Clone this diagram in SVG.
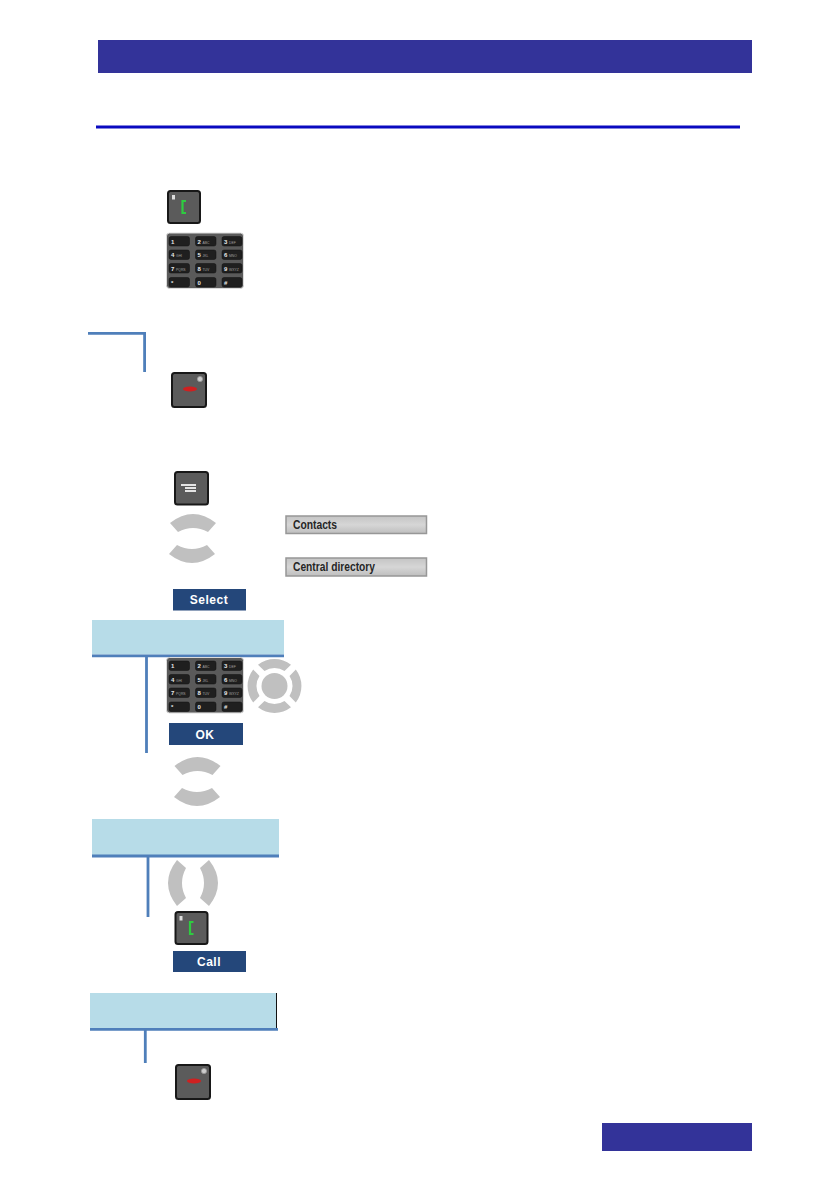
<svg xmlns="http://www.w3.org/2000/svg" width="840" height="1191" viewBox="0 0 840 1191">
<style>
.hdr{fill:#333399}
.band{fill:#b7dce8}
.conn{stroke:#4f7fba;stroke-width:2.8;fill:none}
.soft{fill:#24477a}
.softt{font:bold 12px "Liberation Sans",Arial,sans-serif;fill:#fff;text-anchor:middle;letter-spacing:.5px}
.seg{fill:#c0c0c0}
.body{fill:#5b5b5b;stroke:#181818;stroke-width:2}
.bar{fill:url(#barG);stroke:#979797;stroke-width:1.5}
.bart{font:bold 12px "Liberation Sans",Arial,sans-serif;fill:#262626}
.kp{fill:#5a5a5a;stroke:#dcdcdc;stroke-width:1}
.k{fill:#1f1f1f;stroke:#111;stroke-width:.5}
.kt{font:bold 6px "Liberation Sans",Arial,sans-serif;fill:#e8e8e8}
.kt tspan{font-size:3.4px;font-weight:normal;fill:#a0a0a0}
</style>
<defs>
<linearGradient id="barG" x1="0" x2="0" y1="0" y2="1"><stop offset="0" stop-color="#c4c4c4"/><stop offset=".5" stop-color="#d6d6d6"/><stop offset="1" stop-color="#bebebe"/></linearGradient>
<path id="arcU" class="seg" d="M-23,9Q0,-9 23,9L15,18Q0,10 -15,18Z"/>
<path id="navS" class="seg" d="M-16.500,-21.300A27,27 0 0 1 16.500,-21.300L10,-15A18,18 0 0 0 -10,-15Z"/>
<g id="greenKey">
<rect class="body" x="1" y="1" width="32" height="32" rx="2.500"/>
<rect x="5" y="5" width="3" height="4.500" fill="#ddd"/>
<path d="M19,11H15.500V23H19" fill="none" stroke="#2ecc40" stroke-width="2.200"/>
</g>
<g id="redKey">
<rect class="body" x="1" y="1" width="34" height="34" rx="2.500"/>
<circle cx="29" cy="7" r="2.600" fill="#ccc" stroke="#999" stroke-width=".8"/>
<ellipse cx="19" cy="17" rx="7" ry="2.600" fill="#cf2020"/>
</g>
<g id="keypad">
<rect class="kp" x=".5" y=".5" width="77" height="55.500" rx="3"/>
<rect class="k" x="3" y="4" width="20.500" height="9.500" rx="2"/><rect class="k" x="29.500" y="4" width="20.500" height="9.500" rx="2"/><rect class="k" x="56" y="4" width="20" height="9.500" rx="2"/>
<rect class="k" x="3" y="17.500" width="20.500" height="9.500" rx="2"/><rect class="k" x="29.500" y="17.500" width="20.500" height="9.500" rx="2"/><rect class="k" x="56" y="17.500" width="20" height="9.500" rx="2"/>
<rect class="k" x="3" y="31" width="20.500" height="9.500" rx="2"/><rect class="k" x="29.500" y="31" width="20.500" height="9.500" rx="2"/><rect class="k" x="56" y="31" width="20" height="9.500" rx="2"/>
<rect class="k" x="3" y="45" width="20.500" height="9.500" rx="2"/><rect class="k" x="29.500" y="45" width="20.500" height="9.500" rx="2"/><rect class="k" x="56" y="45" width="20" height="9.500" rx="2"/>
<text class="kt" x="5" y="11">1</text><text class="kt" x="31.500" y="11">2 <tspan>ABC</tspan></text><text class="kt" x="58" y="11">3 <tspan>DEF</tspan></text>
<text class="kt" x="5" y="24.500">4 <tspan>GHI</tspan></text><text class="kt" x="31.500" y="24.500">5 <tspan>JKL</tspan></text><text class="kt" x="58" y="24.500">6 <tspan>MNO</tspan></text>
<text class="kt" x="5" y="38">7 <tspan>PQRS</tspan></text><text class="kt" x="31.500" y="38">8 <tspan>TUV</tspan></text><text class="kt" x="58" y="38">9 <tspan>WXYZ</tspan></text>
<text class="kt" x="5" y="52">*</text><text class="kt" x="31.500" y="52">0</text><text class="kt" x="58" y="52">#</text>
</g>
</defs>
<rect width="840" height="1191" fill="#fff"/>
<g id="header"><rect class="hdr" x="98" y="40" width="654" height="33"/></g>
<g id="rule"><rect x="96" y="125.500" width="644" height="3" fill="#0a0ac0"/></g>
<g id="footer"><rect class="hdr" x="602" y="1123" width="150" height="28"/></g>
<g id="bands">
<rect class="band" x="92" y="620" width="192" height="34.500"/>
<rect class="band" x="92" y="819" width="187" height="36"/>
<rect class="band" x="90" y="993" width="187" height="35"/>
<rect x="276" y="993" width="1" height="35" fill="#111"/>
</g>
<g id="connectors">
<path class="conn" d="M88,333.300H144.600V372"/>
<path class="conn" d="M92,655.800H284M146.500,657V753"/>
<path class="conn" d="M92,856H279M148,857V917"/>
<path class="conn" d="M90,1029.300H278M145.300,1030V1063"/>
</g>
<g id="key-call-1"><use href="#greenKey" transform="translate(167,190)"/></g>
<g id="keypad-1"><use href="#keypad" transform="translate(166,232.500)"/></g>
<g id="key-end-1"><use href="#redKey" transform="translate(171,372)"/></g>
<g id="key-menu">
<rect class="body" x="175" y="472" width="33" height="32.500" rx="2.500"/>
<path d="M181,485H185M185,485H196M185,488H196M185,491H196" stroke="#e4e4e4" stroke-width="1.800" fill="none"/>
</g>
<g id="nav-up-1"><use href="#arcU" x="193" y="514"/></g>
<g id="nav-down-1"><use href="#arcU" transform="translate(192,563) scale(1,-1)"/></g>
<g id="display-contacts"><rect class="bar" x="286" y="516" width="140.500" height="17.500"/><text class="bart" x="293" y="529" textLength="44" lengthAdjust="spacingAndGlyphs">Contacts</text></g>
<g id="display-central"><rect class="bar" x="286" y="558" width="140.500" height="18"/><text class="bart" x="293" y="571" textLength="82" lengthAdjust="spacingAndGlyphs">Central directory</text></g>
<g id="soft-select"><rect class="soft" x="173" y="589" width="73" height="21.500"/><text class="softt" x="209" y="604">Select</text></g>
<g id="keypad-2"><use href="#keypad" transform="translate(166,657)"/></g>
<g id="nav-cluster">
<circle class="seg" cx="274.500" cy="686" r="13"/>
<use href="#navS" transform="translate(274.500,686)"/>
<use href="#navS" transform="translate(274.500,686) rotate(90)"/>
<use href="#navS" transform="translate(274.500,686) rotate(180)"/>
<use href="#navS" transform="translate(274.500,686) rotate(270)"/>
</g>
<g id="soft-ok"><rect class="soft" x="169" y="723" width="74" height="22"/><text class="softt" x="205" y="738.500">OK</text></g>
<g id="nav-up-2"><use href="#arcU" x="197.500" y="757"/></g>
<g id="nav-down-2"><use href="#arcU" transform="translate(197,806) scale(1,-1)"/></g>
<g id="nav-left"><use href="#arcU" transform="translate(168,883) rotate(-90)"/></g>
<g id="nav-right"><use href="#arcU" transform="translate(218,883) rotate(90)"/></g>
<g id="key-call-2"><use href="#greenKey" transform="translate(174.500,911)"/></g>
<g id="soft-call"><rect class="soft" x="173" y="951" width="73" height="21"/><text class="softt" x="209" y="965.500">Call</text></g>
<g id="key-end-2"><use href="#redKey" transform="translate(175,1064)"/></g>
</svg>
